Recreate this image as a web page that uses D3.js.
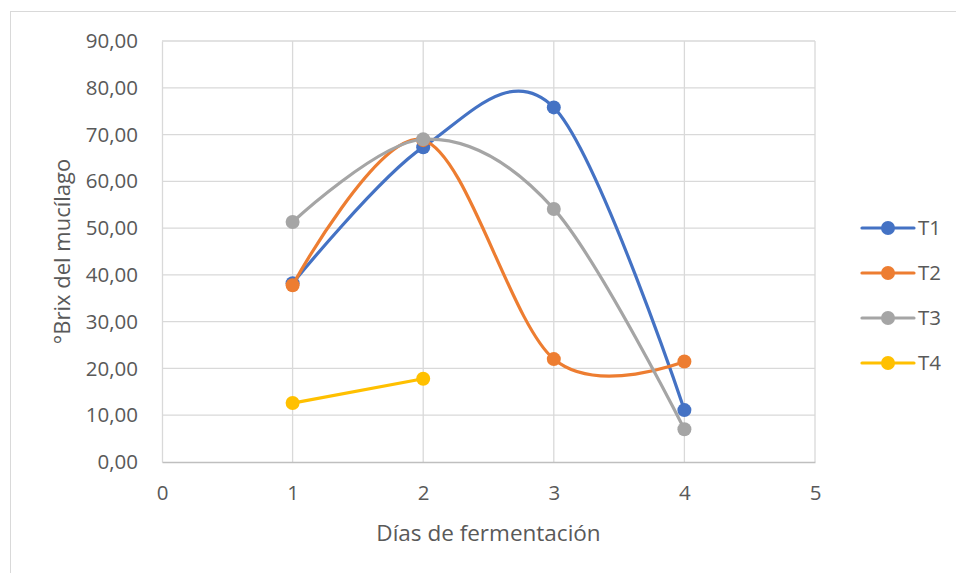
<!DOCTYPE html>
<html><head><meta charset="utf-8">
<script src="https://cdn.jsdelivr.net/npm/d3@7"></script>
<style>body{margin:0;background:#fff;} svg{display:block;font-family:"Open Sans",sans-serif;}</style>
</head><body>
<svg id="c" width="956" height="573"></svg>
<script>
const days = [1, 2, 3, 4];
const seriesNames = ["T1", "T2", "T3", "T4"];
const t1 = [38.2, 67.3, 75.8, 11.1];
const t2 = [37.8, 68.8, 22.0, 21.5];
const t3 = [51.3, 69.0, 54.1, 7.0];
const t4 = [12.6, 17.8, null, null];
const colors = ["#4472C4", "#ED7D31", "#A5A5A5", "#FFC000"];
const xTicks = [0, 1, 2, 3, 4, 5];
const yTicks = [0, 10, 20, 30, 40, 50, 60, 70, 80, 90];

const svg = d3.select("#c");
const m = {l: 162, r: 815, t: 41, b: 462};
const x = d3.scaleLinear().domain([0, 5]).range([m.l, m.r]);
const y = d3.scaleLinear().domain([0, 90]).range([m.b, m.t]);

// chart border
svg.append("rect").attr("x", 10.5).attr("y", 11.5).attr("width", 960).attr("height", 580)
  .attr("fill", "none").attr("stroke", "#d9d9d9");

// gridlines
svg.append("g").selectAll("line").data(yTicks.slice(1)).join("line")
  .attr("x1", m.l).attr("x2", m.r).attr("y1", d => y(d)).attr("y2", d => y(d))
  .attr("stroke", "#d9d9d9").attr("stroke-width", 1.3);
svg.append("g").selectAll("line").data(xTicks.slice(1)).join("line")
  .attr("y1", m.t).attr("y2", m.b).attr("x1", d => x(d)).attr("x2", d => x(d))
  .attr("stroke", "#d9d9d9").attr("stroke-width", 1.3);

// axes
const fmt = d => d3.format(".2f")(d).replace(".", ",");
const yAxis = svg.append("g").attr("transform", `translate(${m.l},0)`)
  .call(d3.axisLeft(y).tickValues(yTicks).tickFormat(fmt).tickSize(0).tickPadding(24));
yAxis.select(".domain").attr("stroke", "#d9d9d9").attr("stroke-width", 1.3);
const xAxis = svg.append("g").attr("transform", `translate(0,${m.b})`)
  .call(d3.axisBottom(x).tickValues(xTicks).tickFormat(d3.format("d")).tickSize(0).tickPadding(23));
xAxis.select(".domain").attr("stroke", "#bfbfbf").attr("stroke-width", 1.5);
svg.selectAll(".tick text").attr("fill", "#595959").style("font-size", "20.5px").style("font-family", "'Open Sans',sans-serif");

// axis titles
svg.append("text").attr("x", (m.l + m.r) / 2).attr("y", 541).attr("text-anchor", "middle")
  .attr("fill", "#595959").style("font-size", "22.5px").text("Días de fermentación");
svg.append("text").attr("transform", `translate(70,${(m.t + m.b) / 2}) rotate(-90)`).attr("text-anchor", "middle")
  .attr("fill", "#595959").style("font-size", "22px").text("°Brix del mucílago");

// series
const allVals = [t1, t2, t3, t4];
const line = d3.line().defined(d => d.v != null).x(d => x(d.day)).y(d => y(d.v)).curve(d3.curveCardinal.tension(0));
allVals.forEach((vals, i) => {
  const pts = days.map((d, j) => ({day: d, v: vals[j]})).filter(p => p.v != null);
  svg.append("path").datum(pts).attr("d", line).attr("fill", "none")
    .attr("stroke", colors[i]).attr("stroke-width", 3.2).attr("stroke-linecap", "round");
  svg.append("g").selectAll("circle").data(pts).join("circle")
    .attr("cx", d => x(d.day)).attr("cy", d => y(d.v)).attr("r", 7).attr("fill", colors[i]);
});

// legend
const lg = svg.append("g");
seriesNames.forEach((n, i) => {
  const yy = 228 + i * 45;
  lg.append("line").attr("x1", 862).attr("x2", 914).attr("y1", yy).attr("y2", yy)
    .attr("stroke", colors[i]).attr("stroke-width", 3.2).attr("stroke-linecap", "round");
  lg.append("circle").attr("cx", 888).attr("cy", yy).attr("r", 7).attr("fill", colors[i]);
  lg.append("text").attr("x", 918).attr("y", yy).attr("dy", "0.35em").attr("fill", "#595959")
    .style("font-size", "20.5px").text(n);
});
</script>
</body></html>
